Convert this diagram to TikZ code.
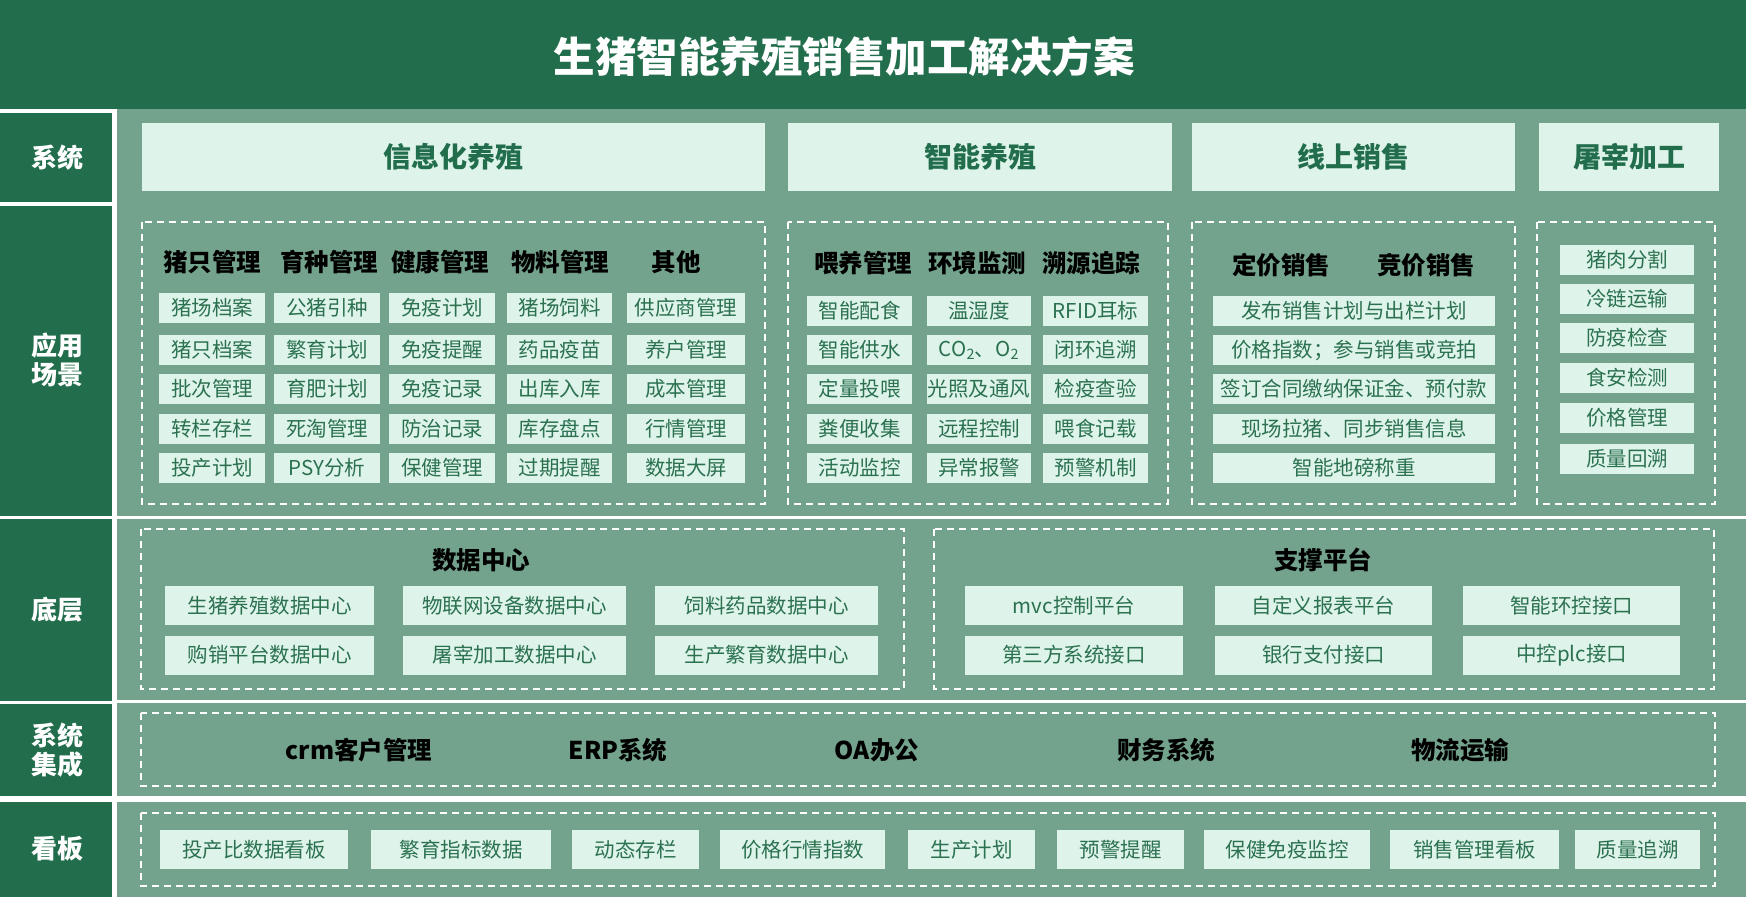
\documentclass[tikz,border=0pt]{standalone}
\usepackage{fontspec}
\setmainfont{Noto Sans CJK SC}
\definecolor{dkgreen}{RGB}{34,110,76}
\definecolor{midgreen}{RGB}{115,163,140}
\definecolor{cellfill}{RGB}{222,244,234}
\definecolor{celltext}{RGB}{43,113,80}

\begin{document}
\begin{tikzpicture}[x=1pt,y=-1pt,
        cell/.style={fill=cellfill,text=celltext,inner sep=0pt,minimum height=30pt,font=\fontsize{20.5}{20.5}\selectfont},
        tallcell/.style={cell,minimum height=39pt},
        sysbox/.style={fill=cellfill,text=dkgreen,inner sep=0pt,minimum height=68pt,font=\bfseries\fontsize{28}{28}\selectfont},
        head/.style={text=black,inner sep=0pt,font=\bfseries\fontsize{24.5}{24.5}\selectfont},
        side/.style={text=white,inner sep=0pt,align=center,font=\bfseries\fontsize{26}{28.5}\selectfont},
        zone/.style={draw=white,line width=2pt,dash pattern=on 7pt off 5pt}]
        \useasboundingbox (0,0) rectangle (1746,897);
        \fill[white] (0,0) rectangle (1746,897);
        \fill[dkgreen] (0,0) rectangle (1746,109);
        \fill[dkgreen] (0,113) rectangle (112,202);
        \fill[dkgreen] (0,206) rectangle (112,516);
        \fill[dkgreen] (0,519) rectangle (112,701);
        \fill[dkgreen] (0,704) rectangle (112,796);
        \fill[dkgreen] (0,802) rectangle (112,897);
        \fill[midgreen] (117,109) rectangle (1746,516);
        \fill[midgreen] (117,519) rectangle (1746,700);
        \fill[midgreen] (117,703) rectangle (1746,796);
        \fill[midgreen] (117,802) rectangle (1746,897);
        \draw[zone] (142,222) rectangle (765,504);
        \draw[zone] (788,222) rectangle (1168,504);
        \draw[zone] (1192,222) rectangle (1515,504);
        \draw[zone] (1537,222) rectangle (1715,504);
        \draw[zone] (141,529) rectangle (904,689);
        \draw[zone] (934,529) rectangle (1714,689);
        \draw[zone] (141,713) rectangle (1715,786);
        \draw[zone] (141,813) rectangle (1715,886);

        \draw (844,56) node[text=white,font=\bfseries\fontsize{41.5}{41.5}\selectfont] (t) {生猪智能养殖销售加工解决方案};

        \draw (57,158) node[side] (l1) {系统};
        \draw (57,360) node[side] (l2) {应用\\场景};
        \draw (57,610) node[side] (l3) {底层};
        \draw (57,750) node[side] (l4) {系统\\集成};
        \draw (57,849) node[side] (l5) {看板};

        \draw (453.5,157) node[sysbox,minimum width=623pt] (s1) {信息化养殖};
        \draw (980,157)   node[sysbox,minimum width=384pt] (s2) {智能养殖};
        \draw (1353.5,157) node[sysbox,minimum width=323pt] (s3) {线上销售};
        \draw (1629,157)  node[sysbox,minimum width=180pt] (s4) {屠宰加工};

        \draw (212,262.5) node[head] (h1) {猪只管理};
        \draw (329,262.5) node[head] (h2) {育种管理};
        \draw (440,262.5) node[head] (h3) {健康管理};
        \draw (560,262.5) node[head] (h4) {物料管理};
        \draw (676,262.5) node[head] (h5) {其他};
        \draw (863,263)  node[head] (g1) {喂养管理};
        \draw (977,263)  node[head] (g2) {环境监测};
        \draw (1091,263) node[head] (g3) {溯源追踪};
        \draw (1281,265) node[head] (f1) {定价销售};
        \draw (1426,265) node[head] (f2) {竞价销售};

        \draw (212,308) node[cell,minimum width=106pt] (p11) {猪场档案};
        \draw (212,350) node[cell,minimum width=106pt] (p12) {猪只档案};
        \draw (212,389) node[cell,minimum width=106pt] (p13) {批次管理};
        \draw (212,429) node[cell,minimum width=106pt] (p14) {转栏存栏};
        \draw (212,468) node[cell,minimum width=106pt] (p15) {投产计划};
        \draw (327,308) node[cell,minimum width=106pt] (p21) {公猪引种};
        \draw (327,350) node[cell,minimum width=106pt] (p22) {繁育计划};
        \draw (327,389) node[cell,minimum width=106pt] (p23) {育肥计划};
        \draw (327,429) node[cell,minimum width=106pt] (p24) {死淘管理};
        \draw (327,468) node[cell,minimum width=106pt] (p25) {PSY分析};
        \draw (442,308) node[cell,minimum width=106pt] (p31) {免疫计划};
        \draw (442,350) node[cell,minimum width=106pt] (p32) {免疫提醒};
        \draw (442,389) node[cell,minimum width=106pt] (p33) {免疫记录};
        \draw (442,429) node[cell,minimum width=106pt] (p34) {防治记录};
        \draw (442,468) node[cell,minimum width=106pt] (p35) {保健管理};
        \draw (559.5,308) node[cell,minimum width=105pt] (p41) {猪场饲料};
        \draw (559.5,350) node[cell,minimum width=105pt] (p42) {药品疫苗};
        \draw (559.5,389) node[cell,minimum width=105pt] (p43) {出库入库};
        \draw (559.5,429) node[cell,minimum width=105pt] (p44) {库存盘点};
        \draw (559.5,468) node[cell,minimum width=105pt] (p45) {过期提醒};
        \draw (686,308) node[cell,minimum width=118pt] (p51) {供应商管理};
        \draw (686,350) node[cell,minimum width=118pt] (p52) {养户管理};
        \draw (686,389) node[cell,minimum width=118pt] (p53) {成本管理};
        \draw (686,429) node[cell,minimum width=118pt] (p54) {行情管理};
        \draw (686,468) node[cell,minimum width=118pt] (p55) {数据大屏};

        \draw (859.5,311) node[cell,minimum width=105pt] (q11) {智能配食};
        \draw (859.5,350) node[cell,minimum width=105pt] (q12) {智能供水};
        \draw (859.5,389) node[cell,minimum width=105pt] (q13) {定量投喂};
        \draw (859.5,429) node[cell,minimum width=105pt] (q14) {粪便收集};
        \draw (859.5,468) node[cell,minimum width=105pt] (q15) {活动监控};
        \draw (979,311) node[cell,minimum width=104pt] (q21) {温湿度};
        \draw (979,350) node[cell,minimum width=104pt] (q22) {CO\textsubscript{2}、O\textsubscript{2}};
        \draw (979,389) node[cell,minimum width=104pt] (q23) {光照及通风};
        \draw (979,429) node[cell,minimum width=104pt] (q24) {远程控制};
        \draw (979,468) node[cell,minimum width=104pt] (q25) {异常报警};
        \draw (1095.5,311) node[cell,minimum width=105pt] (q31) {RFID耳标};
        \draw (1095.5,350) node[cell,minimum width=105pt] (q32) {闭环追溯};
        \draw (1095.5,389) node[cell,minimum width=105pt] (q33) {检疫查验};
        \draw (1095.5,429) node[cell,minimum width=105pt] (q34) {喂食记载};
        \draw (1095.5,468) node[cell,minimum width=105pt] (q35) {预警机制};

        \draw (1354,311) node[cell,minimum width=282pt] (r1) {发布销售计划与出栏计划};
        \draw (1354,350) node[cell,minimum width=282pt] (r2) {价格指数；参与销售或竞拍};
        \draw (1354,389) node[cell,minimum width=282pt] (r3) {签订合同缴纳保证金、预付款};
        \draw (1354,429) node[cell,minimum width=282pt] (r4) {现场拉猪、同步销售信息};
        \draw (1354,468) node[cell,minimum width=282pt] (r5) {智能地磅称重};

        \draw (1627,260)   node[cell,minimum width=134pt] (u1) {猪肉分割};
        \draw (1627,298.5) node[cell,minimum width=134pt] (u2) {冷链运输};
        \draw (1627,337.5) node[cell,minimum width=134pt] (u3) {防疫检查};
        \draw (1627,378)   node[cell,minimum width=134pt] (u4) {食安检测};
        \draw (1627,418)   node[cell,minimum width=134pt] (u5) {价格管理};
        \draw (1627,458.5) node[cell,minimum width=134pt] (u6) {质量回溯};

        \draw (481,560)  node[head] (hm) {数据中心};
        \draw (1323,560) node[head] (hn) {支撑平台};
        \draw (269.5,605.5) node[tallcell,minimum width=209pt] (m11) {生猪养殖数据中心};
        \draw (514.5,605.5) node[tallcell,minimum width=223pt] (m21) {物联网设备数据中心};
        \draw (766.5,605.5) node[tallcell,minimum width=223pt] (m31) {饲料药品数据中心};
        \draw (269.5,655)   node[tallcell,minimum width=209pt] (m12) {购销平台数据中心};
        \draw (514.5,655)   node[tallcell,minimum width=223pt] (m22) {屠宰加工数据中心};
        \draw (766.5,655)   node[tallcell,minimum width=223pt] (m32) {生产繁育数据中心};
        \draw (1074,605.5)   node[tallcell,minimum width=218pt] (n11) {mvc控制平台};
        \draw (1323.5,605.5) node[tallcell,minimum width=217pt] (n21) {自定义报表平台};
        \draw (1571.5,605.5) node[tallcell,minimum width=217pt] (n31) {智能环控接口};
        \draw (1074,655)     node[tallcell,minimum width=218pt] (n12) {第三方系统接口};
        \draw (1323.5,655)   node[tallcell,minimum width=217pt] (n22) {银行支付接口};
        \draw (1571.5,655)   node[tallcell,minimum width=217pt] (n32) {中控plc接口};

        \draw (359,750)  node[head] (i1) {crm客户管理};
        \draw (618,750)  node[head] (i2) {ERP系统};
        \draw (877,750)  node[head] (i3) {OA办公};
        \draw (1166,750) node[head] (i4) {财务系统};
        \draw (1460,750) node[head] (i5) {物流运输};

        \draw (254,849.5)    node[tallcell,minimum width=188pt] (k1) {投产比数据看板};
        \draw (461,849.5)    node[tallcell,minimum width=180pt] (k2) {繁育指标数据};
        \draw (635.5,849.5)  node[tallcell,minimum width=127pt] (k3) {动态存栏};
        \draw (802.5,849.5)  node[tallcell,minimum width=165pt] (k4) {价格行情指数};
        \draw (971.5,849.5)  node[tallcell,minimum width=127pt] (k5) {生产计划};
        \draw (1120.5,849.5) node[tallcell,minimum width=127pt] (k6) {预警提醒};
        \draw (1287,849.5)   node[tallcell,minimum width=166pt] (k7) {保健免疫监控};
        \draw (1474.5,849.5) node[tallcell,minimum width=169pt] (k8) {销售管理看板};
        \draw (1637.5,849.5) node[tallcell,minimum width=125pt] (k9) {质量追溯};
\end{tikzpicture}
\end{document}
